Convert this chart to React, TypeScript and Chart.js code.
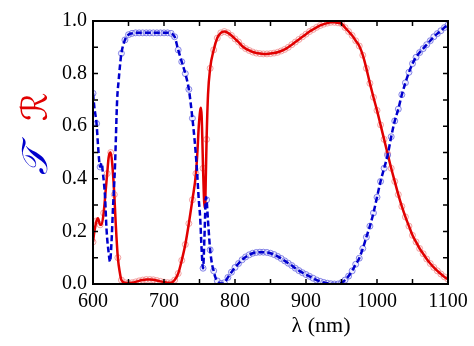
import React, { useEffect, useRef } from "react";
import { Chart, registerables } from "chart.js";

Chart.register(...registerables);

// Reflectance R (red, solid)
const lamR = [600, 602, 605, 607, 610, 612, 615, 618, 620, 622, 624, 625, 627, 630, 632, 635, 638, 640, 645, 650, 655, 660, 665, 670, 675, 680, 685, 690, 695, 700, 705, 710, 715, 720, 725, 730, 735, 740, 745, 747, 749, 751, 752, 753, 754, 755, 756, 757, 758, 759, 760, 762, 765, 770, 775, 780, 785, 790, 795, 800, 805, 810, 815, 820, 825, 830, 835, 840, 845, 850, 855, 860, 865, 870, 875, 880, 885, 890, 895, 900, 905, 910, 915, 920, 925, 930, 935, 940, 945, 950, 955, 960, 965, 970, 975, 980, 985, 990, 995, 1000, 1005, 1010, 1015, 1020, 1025, 1030, 1035, 1040, 1045, 1050, 1055, 1060, 1065, 1070, 1075, 1080, 1085, 1090, 1095, 1100];
const valR = [0.16, 0.2, 0.24, 0.25, 0.225, 0.225, 0.27, 0.36, 0.42, 0.48, 0.5, 0.5, 0.46, 0.34, 0.23, 0.1, 0.04, 0.015, 0.005, 0.003, 0.005, 0.008, 0.012, 0.015, 0.017, 0.017, 0.016, 0.013, 0.01, 0.007, 0.005, 0.005, 0.015, 0.04, 0.09, 0.15, 0.23, 0.32, 0.42, 0.5, 0.6, 0.66, 0.67, 0.64, 0.55, 0.44, 0.35, 0.29, 0.3, 0.42, 0.55, 0.72, 0.82, 0.89, 0.935, 0.955, 0.96, 0.955, 0.945, 0.932, 0.92, 0.905, 0.895, 0.888, 0.882, 0.878, 0.876, 0.875, 0.875, 0.876, 0.878, 0.881, 0.886, 0.892, 0.9, 0.91, 0.92, 0.93, 0.94, 0.95, 0.96, 0.968, 0.976, 0.983, 0.988, 0.992, 0.995, 0.995, 0.993, 0.99, 0.975, 0.96, 0.945, 0.925, 0.905, 0.87, 0.82, 0.763, 0.71, 0.66, 0.605, 0.55, 0.495, 0.44, 0.39, 0.34, 0.295, 0.255, 0.22, 0.185, 0.16, 0.135, 0.115, 0.095, 0.078, 0.063, 0.05, 0.038, 0.027, 0.018];

// Transmittance T (blue, dashed)
const lamT = [600, 602, 605, 607, 609, 610, 612, 614, 617, 619, 622, 624, 626, 628, 631, 634, 636, 638, 640, 645, 650, 655, 660, 665, 670, 675, 680, 685, 690, 695, 700, 705, 710, 715, 720, 725, 730, 735, 740, 743, 746, 749, 751, 753, 755, 757, 759, 760, 762, 765, 768, 770, 772, 775, 780, 785, 790, 795, 800, 805, 810, 815, 820, 825, 830, 835, 840, 845, 850, 855, 860, 865, 870, 875, 880, 885, 890, 895, 900, 905, 910, 915, 920, 925, 930, 935, 940, 945, 950, 955, 960, 965, 970, 975, 980, 985, 990, 995, 1000, 1005, 1010, 1015, 1020, 1025, 1030, 1035, 1040, 1045, 1050, 1055, 1060, 1065, 1070, 1075, 1080, 1085, 1090, 1095, 1100];
const valT = [0.725, 0.67, 0.61, 0.53, 0.46, 0.445, 0.46, 0.42, 0.33, 0.21, 0.12, 0.085, 0.155, 0.28, 0.45, 0.7, 0.77, 0.83, 0.877, 0.928, 0.948, 0.953, 0.955, 0.955, 0.955, 0.955, 0.955, 0.955, 0.955, 0.955, 0.955, 0.955, 0.953, 0.94, 0.89, 0.845, 0.8, 0.74, 0.63, 0.55, 0.45, 0.32, 0.25, 0.13, 0.06, 0.18, 0.33, 0.32, 0.24, 0.13, 0.07, 0.05, 0.028, 0.012, 0.002, 0.005, 0.025, 0.045, 0.063, 0.078, 0.092, 0.103, 0.111, 0.117, 0.12, 0.121, 0.121, 0.12, 0.117, 0.112, 0.105, 0.097, 0.088, 0.079, 0.07, 0.06, 0.051, 0.043, 0.036, 0.029, 0.022, 0.015, 0.01, 0.006, 0.003, 0.001, 0.0, 0.0, 0.005, 0.015, 0.03, 0.05, 0.075, 0.098, 0.135, 0.178, 0.22, 0.27, 0.33, 0.39, 0.44, 0.49, 0.56, 0.62, 0.665, 0.72, 0.765, 0.805, 0.838, 0.862, 0.88, 0.895, 0.91, 0.925, 0.94, 0.952, 0.963, 0.975, 0.985];

const xTickLabels = ["600", "700", "800", "900", "1000", "1100"];
const yTickLabels = ["0.0", "0.2", "0.4", "0.6", "0.8", "1.0"];
const xTitle = "λ (nm)";
const yTitleT = "𝒯";
const yTitleR = "ℛ";

const RED = "rgb(225,0,0)";
const BLUE = "rgb(0,0,205)";
const SERIF = '"Liberation Serif", "Times New Roman", serif';

const framePlugin = {
  id: "frame",
  afterDatasetsDraw(chart: any) {
    const { ctx, chartArea: a, scales } = chart;
    const xs = scales.x;
    const ys = scales.y;
    ctx.save();
    ctx.strokeStyle = "#000";
    ctx.lineWidth = 2;
    ctx.strokeRect(a.left, a.top, a.right - a.left, a.bottom - a.top);
    ctx.lineWidth = 1.5;
    const tl = 5;
    ctx.beginPath();
    for (let v = 650; v < 1100; v += 50) {
      const px = xs.getPixelForValue(v);
      ctx.moveTo(px, a.bottom);
      ctx.lineTo(px, a.bottom - tl);
      ctx.moveTo(px, a.top);
      ctx.lineTo(px, a.top + tl);
    }
    for (let k = 1; k < 10; k++) {
      const py = ys.getPixelForValue(k / 10);
      ctx.moveTo(a.left, py);
      ctx.lineTo(a.left + tl, py);
      ctx.moveTo(a.right, py);
      ctx.lineTo(a.right - tl, py);
    }
    ctx.stroke();

    // axis titles
    ctx.fillStyle = "#000";
    ctx.font = `22px ${SERIF}`;
    ctx.textAlign = "center";
    ctx.textBaseline = "middle";
    ctx.fillText(xTitle, 321, 326);

    ctx.font = `italic 36px "DejaVu Serif", "DejaVu Sans", serif`;
    ctx.save();
    ctx.translate(38, 107);
    ctx.rotate(-Math.PI / 2);
    ctx.fillStyle = RED;
    ctx.fillText(yTitleR, 0, 0);
    ctx.restore();
    ctx.save();
    ctx.translate(38, 161);
    ctx.rotate(-Math.PI / 2);
    ctx.fillStyle = BLUE;
    ctx.fillText(yTitleT, 0, 0);
    ctx.restore();
    ctx.restore();
  },
};

export default function App() {
  const ref = useRef<HTMLCanvasElement | null>(null);
  useEffect(() => {
    if (!ref.current) return;
    const ptsR = lamR.map((x, i) => ({ x, y: valR[i] }));
    const ptsT = lamT.map((x, i) => ({ x, y: valT[i] }));
    const markR = (c: any) => (ptsR[c.dataIndex] && ptsR[c.dataIndex].x % 5 === 0 ? 3 : 0);
    const markT = (c: any) => (ptsT[c.dataIndex] && ptsT[c.dataIndex].x % 5 === 0 ? 3 : 0);
    const chart = new Chart(ref.current, {
      type: "line",
      data: {
        datasets: [
          {
            data: ptsT,
            borderColor: BLUE,
            borderWidth: 2.5,
            borderDash: [6, 3],
            pointRadius: 0,
            fill: false,
            cubicInterpolationMode: "monotone",
          },
          {
            data: ptsR,
            borderColor: RED,
            borderWidth: 2.5,
            pointRadius: 0,
            fill: false,
            cubicInterpolationMode: "monotone",
          },
          {
            data: ptsT,
            showLine: false,
            pointRadius: markT,
            pointBorderColor: "rgba(90,90,220,0.7)",
            pointBackgroundColor: "rgba(215,215,255,0.4)",
            pointBorderWidth: 1,
          },
          {
            data: ptsR,
            showLine: false,
            pointRadius: markR,
            pointBorderColor: "rgba(235,120,120,0.65)",
            pointBackgroundColor: "rgba(255,225,225,0.4)",
            pointBorderWidth: 1,
          },
        ],
      } as any,
      options: {
        animation: false,
        responsive: true,
        maintainAspectRatio: false,
        layout: { padding: { left: 0, top: 21, right: 26, bottom: 0 } },
        plugins: { legend: { display: false }, tooltip: { enabled: false } },
        scales: {
          x: {
            type: "linear",
            min: 600,
            max: 1100,
            grid: { display: false, drawTicks: false },
            border: { display: false },
            ticks: {
              stepSize: 100,
              padding: 6,
              maxRotation: 0,
              color: "#000",
              font: { family: SERIF, size: 20 },
              callback: (v: any) => {
                const i = Math.round((Number(v) - 600) / 100);
                return xTickLabels[i] ?? "";
              },
            },
            afterFit: (s: any) => {
              s.height = 62;
            },
          },
          y: {
            type: "linear",
            min: 0,
            max: 1,
            grid: { display: false, drawTicks: false },
            border: { display: false },
            ticks: {
              stepSize: 0.2,
              padding: 6,
              color: "#000",
              font: { family: SERIF, size: 20 },
              callback: (v: any) => {
                const i = Math.round(Number(v) * 5);
                return yTickLabels[i] ?? "";
              },
            },
            afterFit: (s: any) => {
              s.width = 93;
            },
          },
        },
      } as any,
      plugins: [framePlugin],
    });
    return () => chart.destroy();
  }, []);
  return (
    <div style={{ position: "fixed", left: 0, top: 0, width: 474, height: 346, background: "#fff" }}>
      <canvas ref={ref} />
    </div>
  );
}
